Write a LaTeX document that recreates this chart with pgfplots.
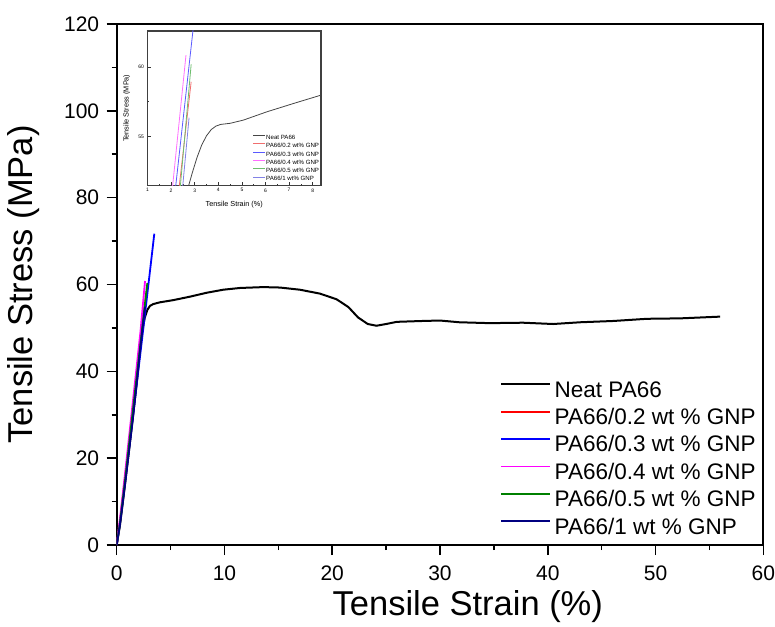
\documentclass[border=0pt]{standalone}
\usepackage{pgfplots}
\pgfplotsset{compat=1.18}
\usepackage{fontspec}
\setmainfont{Liberation Sans}
\definecolor{cNeat}{RGB}{0,0,0}
\definecolor{cRed}{RGB}{255,0,0}
\definecolor{cBlue}{RGB}{0,0,255}
\definecolor{cMag}{RGB}{255,0,255}
\definecolor{cGreen}{RGB}{0,128,0}
\definecolor{cNavy}{RGB}{0,0,128}
\definecolor{iNeat}{RGB}{70,70,70}
\definecolor{iRed}{RGB}{240,110,110}
\definecolor{iBlue}{RGB}{90,90,255}
\definecolor{iMag}{RGB}{255,110,255}
\definecolor{iGreen}{RGB}{110,190,110}
\definecolor{iNavy}{RGB}{130,130,230}
\begin{document}
\begin{tikzpicture}
\begin{axis}[
  at={(0pt,0pt)}, anchor=south west,
  scale only axis, width=646.6pt, height=521pt,
  xmin=0, xmax=60, ymin=0, ymax=120,
  xtick={0,10,...,60}, ytick={0,20,...,120},
  minor x tick num=1, minor y tick num=1,
  xtick pos=bottom, ytick pos=left,
  tick align=outside, major tick length=10pt, minor tick length=5pt,
  tick style={line width=1.6pt, black},
  axis line style={line width=2pt},
  /pgf/number format/assume math mode=true,
  ticklabel style={font=\fontsize{21}{24}\selectfont},
  xticklabel style={yshift=-7pt},
  yticklabel style={xshift=-4pt},
  xlabel={Tensile Strain (\%)}, ylabel={Tensile Stress (MPa)},
  label style={font=\fontsize{34.5}{40}\selectfont},
  xlabel style={at={(rel axis cs:0.543,-0.119)}, anchor=center},
  ylabel style={at={(rel axis cs:-0.1434,0.5)}, anchor=center},
  legend cell align=left,
  legend style={at={(rel axis cs:0.5928,0.3129)}, anchor=north west, draw=none, fill=none,
    inner sep=0pt, row sep=8.4pt, font=\fontsize{22.5}{26}\selectfont,
    nodes={inner xsep=3.5pt, inner ysep=0pt, text height=15pt, text depth=4pt}},
  legend image code/.code={\draw[#1] (0pt,7.3pt) -- (49pt,7.3pt);},
]
\addplot[cNeat, line width=2pt] coordinates {(0,0) (0.3,4.5) (0.7,12.5) (1.2,23) (1.8,36) (2.32,48.8) (2.6,52.3) (2.85,54.2) (3.1,55.1) (3.4,55.5) (4.02,55.9) (5.25,56.4) (6.8,57.2) (8.35,58.1) (9.89,58.8) (11.44,59.2) (13.6,59.4) (15.15,59.3) (17.0,58.8) (18.86,57.9) (20.4,56.6) (21.5,54.8) (22.4,52.4) (23.3,50.9) (24.1,50.5) (25.0,50.9) (26.0,51.4) (28.4,51.6) (30.0,51.7) (31.8,51.3) (34.6,51.1) (37.7,51.2) (40.5,50.9) (43.0,51.3) (46.1,51.6) (49.2,52.1) (52.3,52.2) (56.0,52.6)};
\addlegendentry{Neat PA66}
\addplot[cRed, line width=1.8pt] coordinates {(0,0) (0.3,5.2) (0.8,16) (1.5,31) (2.2,46.5) (2.78,58.4)};
\addlegendentry{PA66/0.2 wt \% GNP}
\addplot[cBlue, line width=1.8pt] coordinates {(0,0) (0.3,5) (0.8,15) (1.5,29.5) (2.5,50.5) (3.49,71.7)};
\addlegendentry{PA66/0.3 wt \% GNP}
\addplot[cMag, line width=1.8pt] coordinates {(0,0) (0.3,6) (0.8,17) (1.5,33) (2.2,49) (2.63,60.8)};
\addlegendentry{PA66/0.4 wt \% GNP}
\addplot[cGreen, line width=1.8pt] coordinates {(0,0) (0.3,5) (0.8,15.5) (1.5,31) (2.3,48.5) (2.84,60.3)};
\addlegendentry{PA66/0.5 wt \% GNP}
\addplot[cNavy, line width=1.8pt] coordinates {(0,0) (0.3,4.6) (0.8,14.5) (1.5,29) (2.2,45.5) (2.63,54.9)};
\addlegendentry{PA66/1 wt \% GNP}
\end{axis}
\begin{axis}[
  at={(30.8pt,359.5pt)}, anchor=south west,
  scale only axis, width=173.5pt, height=154.5pt,
  xmin=1, xmax=8.35, ymin=51.47, ymax=62.6,
  xtick={1,...,8}, ytick={55,60},
  minor x tick num=1, minor y tick num=1,
  xtick pos=bottom, ytick pos=left,
  tick align=inside, major tick length=3pt, minor tick length=1.8pt,
  tick style={line width=0.7pt, black!80},
  axis line style={line width=1.2pt, black!75},
  /pgf/number format/assume math mode=true,
  ticklabel style={font=\fontsize{5}{6}\selectfont},
  yticklabel style={rotate=0},
  xticklabel style={yshift=0.5pt},
  xlabel={Tensile Strain (\%)}, ylabel={Tensile Stress (MPa)},
  label style={font=\fontsize{7.3}{8.5}\selectfont},
  xlabel style={at={(rel axis cs:0.5,-0.126)}, anchor=center},
  ylabel style={at={(rel axis cs:-0.12,0.5)}, anchor=center},
  legend cell align=left,
  legend style={at={(rel axis cs:0.606,0.328)}, anchor=north west, draw=none, fill=none,
    inner sep=0pt, row sep=2.8pt, font=\fontsize{6.1}{7}\selectfont,
    nodes={inner xsep=0.6pt, inner ysep=0pt, text height=4.4pt, text depth=1.1pt}},
  legend image code/.code={\draw[#1] (0pt,2.2pt) -- (12pt,2.2pt);},
]
\addplot[iNeat, line width=0.8pt] coordinates {(2.70,51.2) (2.9,52.4) (3.1,53.5) (3.3,54.4) (3.5,55.05) (3.7,55.5) (3.9,55.75) (4.1,55.87) (4.5,55.95) (5.06,56.18) (6.06,56.78) (7.19,57.38) (8.35,57.98)};
\addlegendentry{Neat PA66}
\addplot[iRed, line width=0.8pt] coordinates {(2.33,51.2) (2.85,58.94)};
\addlegendentry{PA66/0.2 wt\% GNP}
\addplot[iBlue, line width=0.8pt] coordinates {(2.18,51.2) (2.95,63.0)};
\addlegendentry{PA66/0.3 wt\% GNP}
\addplot[iMag, line width=0.8pt] coordinates {(2.05,51.2) (2.63,60.86)};
\addlegendentry{PA66/0.4 wt\% GNP}
\addplot[iGreen, line width=0.8pt] coordinates {(2.38,51.2) (2.85,60.2)};
\addlegendentry{PA66/0.5 wt\% GNP}
\addplot[iNavy, line width=0.8pt] coordinates {(2.48,51.2) (2.76,56.35)};
\addlegendentry{PA66/1 wt\% GNP}
\end{axis}
\pgfresetboundingbox
\useasboundingbox (-116.7pt,-81pt) rectangle (658.3pt,545pt);
\end{tikzpicture}
\end{document}
